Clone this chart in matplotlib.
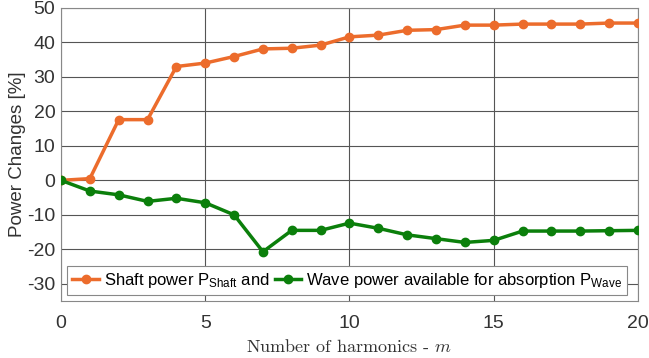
import matplotlib
matplotlib.use("Agg")
import matplotlib.pyplot as plt

harmonics = list(range(21))
shaft_power = [0, 0.5, 17.6, 17.6, 33.0, 34.0, 35.9, 38.1, 38.3, 39.2, 41.6,
               42.1, 43.5, 43.7, 45.0, 45.0, 45.3, 45.3, 45.3, 45.6, 45.6]
wave_power = [0, -3.1, -4.2, -6.1, -5.2, -6.5, -10.0, -20.7, -14.5, -14.5, -12.4,
              -13.9, -15.8, -16.9, -18.0, -17.4, -14.7, -14.7, -14.7, -14.6, -14.5]
xticks = [0, 5, 10, 15, 20]
yticks = [-30, -20, -10, 0, 10, 20, 30, 40, 50]

plt.rcParams['font.family'] = ['Liberation Sans', 'DejaVu Sans']
plt.rcParams['mathtext.fontset'] = 'custom'
plt.rcParams['mathtext.rm'] = 'Liberation Sans'
plt.rcParams['mathtext.it'] = 'Liberation Sans:italic'

fig = plt.figure(figsize=(6.49, 3.58), dpi=100)
ax = fig.add_axes([0.094, 0.159, 0.889, 0.819])

orange = '#EC6C2C'
green = '#0B7F0B'
ax.plot(harmonics, shaft_power, '-o', color=orange, lw=2.5, ms=6,
        label=r'Shaft power P$_{\mathrm{Shaft}}$ and', zorder=3)
ax.plot(harmonics, wave_power, '-o', color=green, lw=2.5, ms=6,
        label=r'Wave power available for absorption P$_{\mathrm{Wave}}$', zorder=3)

ax.set_xlim(0, 20)
ax.set_ylim(-35, 50)
ax.set_xticks(xticks)
ax.set_yticks(yticks)
ax.set_yticklabels([str(v) for v in yticks])
ax.tick_params(axis='both', length=0, labelsize=14, colors='#333333')
ax.tick_params(axis='x', pad=10)
ax.tick_params(axis='y', pad=4)
ax.grid(True, color='#555555', lw=0.8)
ax.set_axisbelow(True)
for s in ax.spines.values():
    s.set_color('#888888')
    s.set_linewidth(0.8)

ax.set_ylabel('Power Changes [%]', fontsize=13.5, color='#333333', labelpad=1)
ax.set_xlabel(r'Number of harmonics - $m$', fontsize=13, fontfamily='cmr10',
              math_fontfamily='cm', color='#333333')

leg = ax.legend(loc='lower left', bbox_to_anchor=(0.011, 0.02), ncol=2,
                fontsize=12, frameon=True, fancybox=False, framealpha=1,
                edgecolor='#888888', handlelength=1.6, handletextpad=0.3,
                columnspacing=0.3, borderpad=0.3, borderaxespad=0)
leg.get_frame().set_linewidth(0.8)

fig.savefig('out.png', dpi=100)
